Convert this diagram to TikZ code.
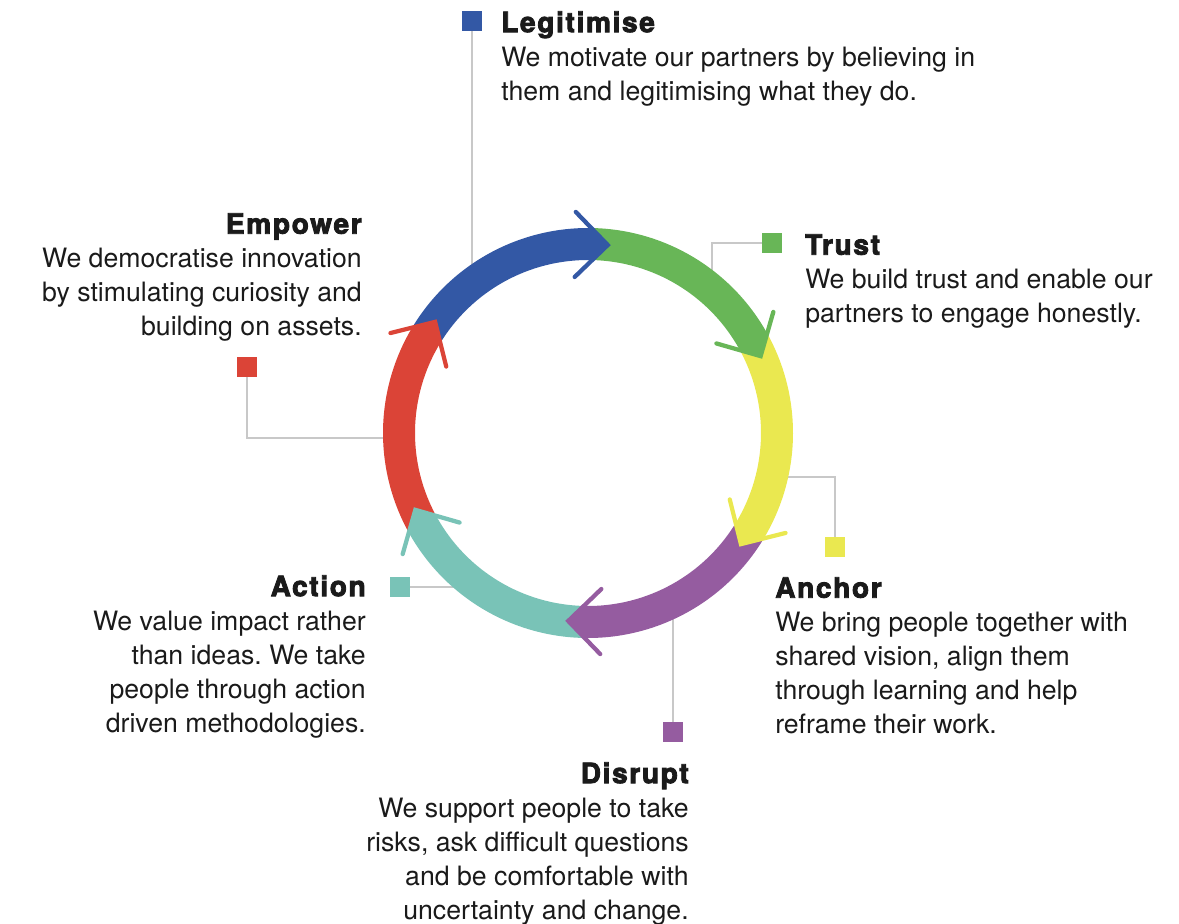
\documentclass[tikz,border=0pt]{standalone}
\usepackage{fontspec}
\setmainfont{TeX Gyre Heros}
\newfontfamily\headfam[BoldFeatures={FakeBold=3,LetterSpace=6}]{TeX Gyre Heros}
\usepackage{tikz}
\frenchspacing

\definecolor{legitblue}{RGB}{51,88,165}
\definecolor{trustgreen}{RGB}{104,182,87}
\definecolor{anchoryellow}{RGB}{234,232,80}
\definecolor{disruptpurple}{RGB}{149,92,160}
\definecolor{actionteal}{RGB}{121,195,183}
\definecolor{empowerred}{RGB}{219,68,55}
\definecolor{leadgrey}{RGB}{200,200,200}
\definecolor{textblack}{RGB}{26,26,26}

\tikzset{
  sq/.style={fill=#1, minimum size=15pt, inner sep=0pt},
  lead/.style={draw=leadgrey, line width=1.5pt},
  chev/.style={draw=#1, line width=3.2pt, line cap=round},
  blurb/.style={inner sep=0pt, text=textblack, font=\fontsize{20}{25.5}\selectfont},
}
\newcommand{\hd}{\headfam\bfseries\fontsize{21}{25.5}\selectfont}

\begin{document}
\begin{tikzpicture}[x=0.75pt,y=0.75pt,yscale=-1]
    \useasboundingbox (0,0) rectangle (1179,924);

    %Squares
    \draw (472,21) node (legitsq) [sq=legitblue] {};
    \draw (772,243) node (trustsq) [sq=trustgreen] {};
    \draw (835,547) node (anchorsq) [sq=anchoryellow] {};
    \draw (673,732) node (disruptsq) [sq=disruptpurple] {};
    \draw (400,587) node (actionsq) [sq=actionteal] {};
    \draw (247,367) node (empowersq) [sq=empowerred] {};

    %Leader ends, under the ring
    \coordinate (legitring) at (472,280);
    \coordinate (trustring) at (712,285);
    \coordinate (anchorring) at (770,477);
    \coordinate (disruptring) at (673,600);
    \coordinate (actionring) at (470,587);
    \coordinate (empowerring) at (400,438);

    %Leaders
    \draw [lead] (legitsq) -- (legitring);
    \draw [lead] (trustsq) -| (trustring);
    \draw [lead] (anchorring) -| (anchorsq);
    \draw [lead] (disruptring) -- (disruptsq);
    \draw [lead] (actionsq) -- (actionring);
    \draw [lead] (empowersq) |- (empowerring);

    %Ring
    \begin{scope}[shift={(588,433)},yscale=-1]
    %Shape: Arc [Legitimise]
    \fill [legitblue] (149:205) arc [start angle=149, end angle=89, radius=205] -- (84:189) -- (89:173) arc [start angle=89, end angle=149, radius=173] -- (144:189) -- cycle;
    %Shape: Arc [Trust]
    \fill [trustgreen] (89:205) arc [start angle=89, end angle=29, radius=205] -- (24:189) -- (29:173) arc [start angle=29, end angle=89, radius=173] -- (84:189) -- cycle;
    %Shape: Arc [Anchor]
    \fill [anchoryellow] (29:205) arc [start angle=29, end angle=-31, radius=205] -- (-36:189) -- (-31:173) arc [start angle=-31, end angle=29, radius=173] -- (24:189) -- cycle;
    %Shape: Arc [Disrupt]
    \fill [disruptpurple] (-31:205) arc [start angle=-31, end angle=-91, radius=205] -- (-96:189) -- (-91:173) arc [start angle=-91, end angle=-31, radius=173] -- (-36:189) -- cycle;
    %Shape: Arc [Action]
    \fill [actionteal] (-91:205) arc [start angle=-91, end angle=-151, radius=205] -- (-156:189) -- (-151:173) arc [start angle=-151, end angle=-91, radius=173] -- (-96:189) -- cycle;
    %Shape: Arc [Empower]
    \fill [empowerred] (-151:205) arc [start angle=-151, end angle=-211, radius=205] -- (-216:189) -- (-211:173) arc [start angle=-211, end angle=-151, radius=173] -- (-156:189) -- cycle;

    %Arrow heads
    \draw [chev=legitblue] (84:189) ++(134:46) -- (84:189) -- ++(224:46);
    \draw [chev=trustgreen] (24:189) ++(74:46) -- (24:189) -- ++(164:46);
    \draw [chev=anchoryellow] (-36:189) ++(14:46) -- (-36:189) -- ++(104:46);
    \draw [chev=disruptpurple] (-96:189) ++(-46:46) -- (-96:189) -- ++(44:46);
    \draw [chev=actionteal] (-156:189) ++(-106:46) -- (-156:189) -- ++(-16:46);
    \draw [chev=empowerred] (144:189) ++(194:46) -- (144:189) -- ++(284:46);
    \end{scope}

    % Text Node
    \draw (501,11) node (legittext) [blurb, anchor=north west, align=left] {{\hd Legitimise}\\We motivate our partners by believing in\\them and legitimising what they do.};
    % Text Node
    \draw (805,234) node (trusttext) [blurb, anchor=north west, align=left] {{\hd Trust}\\We build trust and enable our\\partners to engage honestly.};
    % Text Node
    \draw (775,577) node (anchortext) [blurb, anchor=north west, align=left] {{\hd Anchor}\\We bring people together with\\shared vision, align them\\through learning and help\\reframe their work.};
    % Text Node
    \draw (689,762) node (disrupttext) [blurb, anchor=north east, align=right] {{\hd Disrupt}\\We support people to take\\risks, ask difficult questions\\and be comfortable with\\uncertainty and change.};
    % Text Node
    \draw (366,575) node (actiontext) [blurb, anchor=north east, align=right] {{\hd Action}\\We value impact rather\\than ideas. We take\\people through action\\driven methodologies.};
    % Text Node
    \draw (362,213) node (empowertext) [blurb, anchor=north east, align=right] {{\hd Empower}\\We democratise innovation\\by stimulating curiosity and\\building on assets.};

\end{tikzpicture}
\end{document}
